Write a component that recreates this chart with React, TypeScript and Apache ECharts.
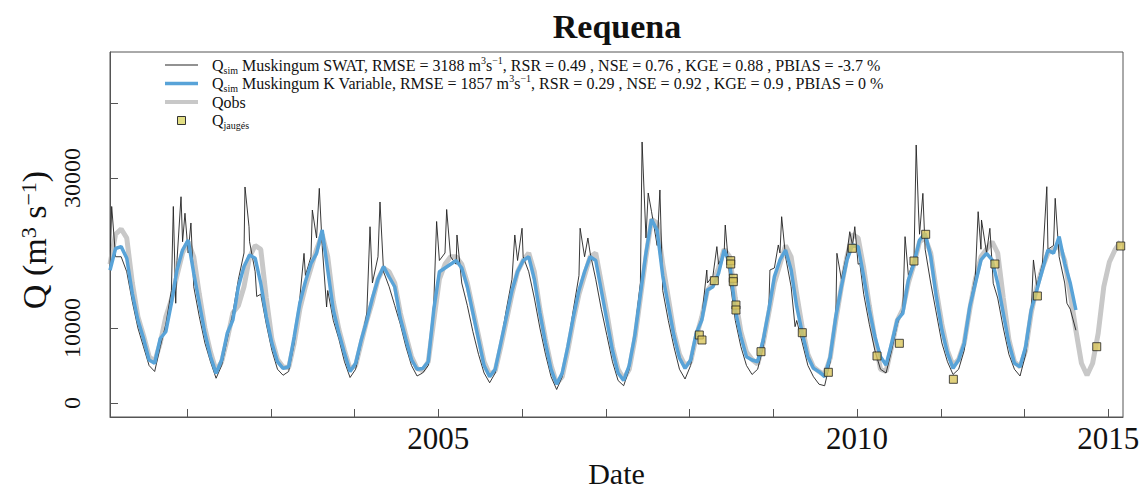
import React, { useEffect, useRef } from "react";
import * as echarts from "echarts";

const FONT = "Liberation Serif, Times New Roman, serif";

// time axis: decimal years, monthly series start here
const startYear = 2000.1;
const xMin = 2000.1;
const xMax = 2015.22;
const xTickValues = [2001.25, 2002.5, 2003.75, 2005, 2006.25, 2007.5, 2008.75, 2010, 2011.25, 2012.5, 2013.75, 2015];
const xLabelValues = [2005, 2011.25, 2015];
const xLabelTexts = ["2005", "2010", "2015"];
const yMin = -1867;
const yMax = 46800;
const yTickValues = [0, 10000, 30000, 40000];
const yLabelValues = [0, 10000, 30000];

// Q sim Muskingum K Variable (monthly)
const qKVarMonthly = [
  17700, 20600, 20850, 19300, 14600, 11050, 8600, 5730, 5300, 8600, 9500, 13300,
  17730, 20400, 21730, 17300, 13300, 9300, 6200, 3950, 5730, 9300, 11050, 15500,
  18200, 19730, 19300, 15960, 11500, 7960, 5500, 4620, 4840, 8850, 13300, 16200,
  18600, 19960, 23070, 17730, 12400, 9300, 6620, 4180, 5300, 8400, 11000, 14000,
  16500, 18200, 16800, 15500, 11300, 8500, 5800, 4500, 4600, 5500, 12500, 17500,
  18000, 18500, 19000, 18000, 15500, 12000, 8500, 5000, 3500, 4500, 8000, 11500,
  15000, 17500, 19000, 19500, 16500, 12000, 8000, 4500, 2500, 4000, 7500, 11500,
  15000, 17500, 19500, 19000, 15000, 11000, 7000, 4000, 3000, 5000, 9000, 14500,
  20000, 24500, 23000, 17000, 13000, 9000, 6000, 4620, 5730, 9290, 11070, 15070,
  15510, 17290, 20400, 18620, 12400, 8850, 6180, 5730, 5500, 8400, 12400, 16850,
  19070, 20400, 17730, 12840, 9290, 6180, 4620, 4180, 3510, 6180, 11510, 15510,
  19070, 21070, 20850, 16850, 12400, 8850, 6180, 5070, 7960, 11070, 11950, 16400,
  18620, 21730, 22620, 19510, 14180, 9730, 6620, 4620, 5730, 7960, 12840, 15960,
  19070, 19960, 19070, 15960, 11950, 7960, 5290, 4840, 7510, 12400, 15070, 17730,
  20400, 19960, 22180, 18620, 15960, 12400,
];

// Q obs (monthly)
const qObsMonthly = [
  18500, 22500, 23200, 22000, 16000, 11500, 9000, 6200, 5500, 8000, 11500, 13800,
  17000, 20000, 21500, 19500, 14500, 10000, 6800, 4300, 5500, 8500, 12000, 13000,
  15500, 19500, 21000, 20500, 14000, 8500, 5800, 4800, 4700, 8000, 12500, 15500,
  18000, 20500, 22500, 19500, 13500, 9800, 7000, 4500, 5000, 8000, 11000, 13500,
  16500, 18000, 17500, 16000, 12000, 9000, 6200, 4600, 4300, 5500, 11000, 16500,
  18500, 19500, 19500, 18500, 16000, 12500, 9000, 5500, 3800, 4300, 7500, 11000,
  14500, 17500, 19000, 20000, 17500, 12500, 8500, 5000, 2600, 3500, 7000, 11000,
  14500, 17000, 19500, 20000, 16000, 12000, 7500, 4500, 3200, 4500, 8500, 14000,
  19500, 24500, 24000, 18500, 14000, 9500, 6500, 5000, 5500, 8800, 11500, 15000,
  16000, 18000, 20500, 19500, 14000, 9500, 6800, 5800, 5200, 8000, 12000, 16000,
  18500, 21000, 19500, 14500, 10000, 6500, 4800, 4200, 3800, 6000, 11000, 15500,
  19500, 22500, 22000, 18000, 13000, 8500, 4500, 4200, 7500, 11000, 12500, 16000,
  18500, 21500, 22000, 20000, 15000, 10500, 7000, 5000, 5800, 8000, 12500, 16500,
  19500, 20500, 21500, 20000, 14000, 8500, 5500, 4800, 7000, 12000, 15500, 18000,
  20000, 20500, 21000, 19000, 14500, 9700, 5300, 3700, 5300, 9300, 15500, 18800, 20400, 21500,
];

// Q sim Muskingum SWAT (monthly) + short peaks/dips [decimal year, value]
const qSwatMonthly = [
  18000, 19500, 19500, 17500, 13500, 10000, 7500, 5000, 4200, 7500, 10500, 15000,
  19000, 21500, 20000, 15500, 11500, 8000, 5500, 3300, 5000, 8500, 12000, 16500,
  20000, 21500, 17500, 14500, 10500, 7000, 4500, 3700, 4200, 8000, 14000, 17000,
  19500, 22000, 21000, 15000, 11000, 8500, 5500, 3400, 4500, 8000, 12000, 16000,
  19500, 17500, 15500, 13000, 10500, 7500, 5000, 3600, 4000, 5000, 13500, 19000,
  20000, 19500, 18500, 16000, 13000, 9500, 6500, 4000, 2700, 4000, 8000, 12500,
  16500, 19000, 19500, 17500, 14000, 10000, 6500, 3500, 1800, 3500, 7500, 12500,
  17000, 19500, 20000, 16500, 12500, 9000, 5500, 3000, 2300, 4500, 9500, 16000,
  22000, 25500, 21000, 15000, 11000, 7500, 4500, 3200, 5000, 9000, 11500, 16000,
  17000, 18500, 20000, 16500, 11000, 7500, 5000, 3800, 4500, 7500, 12500, 18000,
  20000, 19500, 15500, 11000, 8000, 5000, 3500, 2500, 2300, 5500, 11500, 16500,
  20000, 21000, 18500, 14500, 10500, 7000, 4500, 4000, 7000, 10500, 12500, 17000,
  19000, 22500, 20500, 16000, 12000, 8000, 5500, 3800, 4500, 7000, 13000, 17000,
  20500, 20000, 18500, 14000, 10000, 6500, 4500, 3600, 6500, 12000, 15500, 18500,
  20500, 21000, 19500, 16000, 12500, 9700,
];
const qSwatPeaks: [number, number][] = [
  [2000.125, 26200], [2001.045, 26200], [2001.081, 13300], [2001.16, 27500], [2001.219, 25300],
  [2001.308, 24000], [2002.115, 28800], [2002.175, 23500], [2002.29, 14200], [2002.996, 19950],
  [2003.12, 25730], [2003.224, 28620], [2003.333, 12800], [2003.981, 23500], [2004.13, 26800],
  [2004.975, 24200], [2005.125, 25800], [2005.279, 22400], [2006.142, 22400], [2006.25, 23300],
  [2007.117, 23300], [2007.233, 22000], [2008.042, 34800], [2008.133, 28000], [2008.308, 28400],
  [2009.008, 17730], [2009.158, 20850], [2009.283, 23730], [2009.95, 17730], [2010.075, 21070],
  [2010.125, 24840], [2010.325, 10180], [2010.95, 19960], [2011.142, 22840], [2011.217, 23510],
  [2011.292, 18620], [2011.967, 22180], [2012.133, 34400], [2012.167, 25730], [2012.233, 27950],
  [2013.058, 25510], [2013.108, 24400], [2013.233, 23290], [2013.283, 15960], [2013.883, 19070],
  [2014.083, 28840], [2014.208, 27290], [2014.383, 13300],
];

// Q jaugés [decimal year, value]
const qJauges: [number, number][] = [
  [2008.896, 9067], [2008.936, 8400], [2009.12, 16307], [2009.365, 18973], [2009.365, 18533],
  [2009.403, 16627], [2009.403, 16173], [2009.443, 13067], [2009.443, 12400], [2009.817, 6840],
  [2010.433, 9373], [2010.822, 4093], [2011.18, 20627], [2011.548, 6267], [2011.882, 7960],
  [2012.1, 18933], [2012.275, 22493], [2012.688, 3160], [2013.308, 18533], [2013.942, 14267],
  [2014.828, 7507], [2015.186, 20933],
];

const COLORS = { swat: "#222222", swatKey: "#6e6e6e", kvar: "#58a3d8", obs: "#c8c8c8", jauges: "#d9c55c" };

const legendLabels = [
  "{t|Q}{sub|sim}{t| Muskingum SWAT, RMSE = 3188 m}{sup|3}{t|s}{sup|−1}{t|, RSR = 0.49 , NSE = 0.76 , KGE = 0.88 , PBIAS = -3.7 %}",
  "{t|Q}{sub|sim}{t| Muskingum K Variable, RMSE = 1857 m}{sup|3}{t|s}{sup|−1}{t|, RSR = 0.29 , NSE = 0.92 , KGE = 0.9 , PBIAS = 0 %}",
  "{t|Qobs}",
  "{t|Q}{sub|jaugés}",
];
const yTitle = "{a|Q (m}{s|3}{a| s}{s|−1}{a|)}";

function monthly(values: number[]): [number, number][] {
  return values.map((v, i) => [startYear + i / 12, v]);
}

function nearestLabel(v: number): string {
  for (let i = 0; i < xLabelValues.length; i++) {
    if (Math.abs(xLabelValues[i] - v) < 1e-6) return xLabelTexts[i];
  }
  return "";
}

const legendRich = {
  t: { fontFamily: FONT, fontSize: 16, fill: "#111", color: "#111" },
  sub: { fontFamily: FONT, fontSize: 10, fill: "#111", color: "#111", verticalAlign: "bottom", padding: [0, 0, -2, 0] },
  sup: { fontFamily: FONT, fontSize: 10, fill: "#111", color: "#111", verticalAlign: "top", padding: [-2, 0, 0, 0] },
};

export default function App() {
  const ref = useRef<HTMLDivElement>(null);
  useEffect(() => {
    document.body.style.margin = "0";
    if (!ref.current) return;
    const chart = echarts.init(ref.current, undefined, { renderer: "svg" });
    const swatData = monthly(qSwatMonthly).concat(qSwatPeaks).sort((a, b) => a[0] - b[0]);

    const lx1 = 165, lx2 = 198, tx = 212, ly0 = 65, lstep = 18.5;
    const graphics: any[] = [
      { type: "line", shape: { x1: lx1, y1: ly0, x2: lx2, y2: ly0 }, style: { stroke: COLORS.swatKey, lineWidth: 1.3 } },
      { type: "line", shape: { x1: lx1, y1: ly0 + lstep, x2: lx2, y2: ly0 + lstep }, style: { stroke: COLORS.kvar, lineWidth: 3.5 } },
      { type: "line", shape: { x1: lx1, y1: ly0 + 2 * lstep, x2: lx2, y2: ly0 + 2 * lstep }, style: { stroke: COLORS.obs, lineWidth: 4 } },
      { type: "rect", shape: { x: 177.5, y: ly0 + 3 * lstep - 4, width: 8, height: 8 }, style: { fill: "#e2de84", stroke: "#333", lineWidth: 1 } },
    ];
    legendLabels.forEach((txt, i) => {
      graphics.push({
        type: "text",
        x: tx,
        y: ly0 + i * lstep,
        style: {
          text: txt,
          rich: legendRich,
          fontFamily: FONT,
          fontSize: 16,
          fill: "#111",
          verticalAlign: "middle",
          align: "left",
        },
      });
    });
    // y-axis title
    graphics.push({
      type: "text",
      x: 34,
      y: 240,
      rotation: Math.PI / 2,
      style: {
        text: yTitle,
        fontFamily: FONT,
        fontSize: 34,
        fill: "#111",
        align: "center",
        verticalAlign: "middle",
        rich: {
          a: { fontFamily: FONT, fontSize: 34, fill: "#111", color: "#111" },
          s: { fontFamily: FONT, fontSize: 22, fill: "#111", color: "#111", verticalAlign: "top" },
        },
      },
    });

    chart.setOption({
      animation: false,
      backgroundColor: "#ffffff",
      title: {
        text: "Requena",
        left: 612,
        top: 4,
        textAlign: "center",
        textStyle: { fontFamily: FONT, fontWeight: "bold", fontSize: 34, color: "#111" },
      },
      grid: {
        left: 110, top: 52, width: 1013, height: 365,
        outerBoundsMode: "none",
        containLabel: false,
        show: true, borderColor: "#555", borderWidth: 1, backgroundColor: "transparent",
      },
      graphic: graphics,
      xAxis: {
        type: "value",
        min: xMin,
        max: xMax,
        axisLine: { show: true, onZero: false, lineStyle: { color: "#555", width: 1 } },
        axisTick: { show: true, inside: true, length: 8, customValues: xTickValues, lineStyle: { color: "#555" } },
        axisLabel: {
          customValues: xLabelValues,
          formatter: (v: number) => nearestLabel(v),
          fontFamily: FONT, fontSize: 31, color: "#111", margin: 6,
        },
        splitLine: { show: false },
        name: "Date",
        nameLocation: "middle",
        nameGap: 42,
        nameTextStyle: { fontFamily: FONT, fontSize: 30, lineHeight: 26, color: "#111" },
      },
      yAxis: {
        type: "value",
        min: yMin,
        max: yMax,
        axisLine: { show: true, onZero: false, lineStyle: { color: "#555", width: 1 } },
        axisTick: { show: true, inside: true, length: 8, customValues: yTickValues, lineStyle: { color: "#555" } },
        axisLabel: {
          customValues: yLabelValues,
          formatter: (v: number) => String(v),
          rotate: 90,
          fontFamily: FONT, fontSize: 24, color: "#111", margin: 26,
        },
        splitLine: { show: false },
      },
      series: [
        {
          name: "Qobs", type: "line", data: monthly(qObsMonthly), symbol: "none", z: 1,
          lineStyle: { color: COLORS.obs, width: 5 }, itemStyle: { color: COLORS.obs },
        },
        {
          name: "Qsim Muskingum SWAT", type: "line", data: swatData, symbol: "none", z: 2,
          lineStyle: { color: COLORS.swat, width: 0.9 }, itemStyle: { color: COLORS.swat },
        },
        {
          name: "Qsim Muskingum K Variable", type: "line", data: monthly(qKVarMonthly), symbol: "none", z: 3,
          lineStyle: { color: COLORS.kvar, width: 3.5 }, itemStyle: { color: COLORS.kvar },
        },
        {
          name: "Qjaugés", type: "scatter", data: qJauges, symbol: "rect", symbolSize: 8, z: 4,
          itemStyle: { color: COLORS.jauges, borderColor: "#222", borderWidth: 1 },
        },
      ],
    });
    return () => chart.dispose();
  }, []);
  return <div ref={ref} style={{ width: 1145, height: 490 }} />;
}
